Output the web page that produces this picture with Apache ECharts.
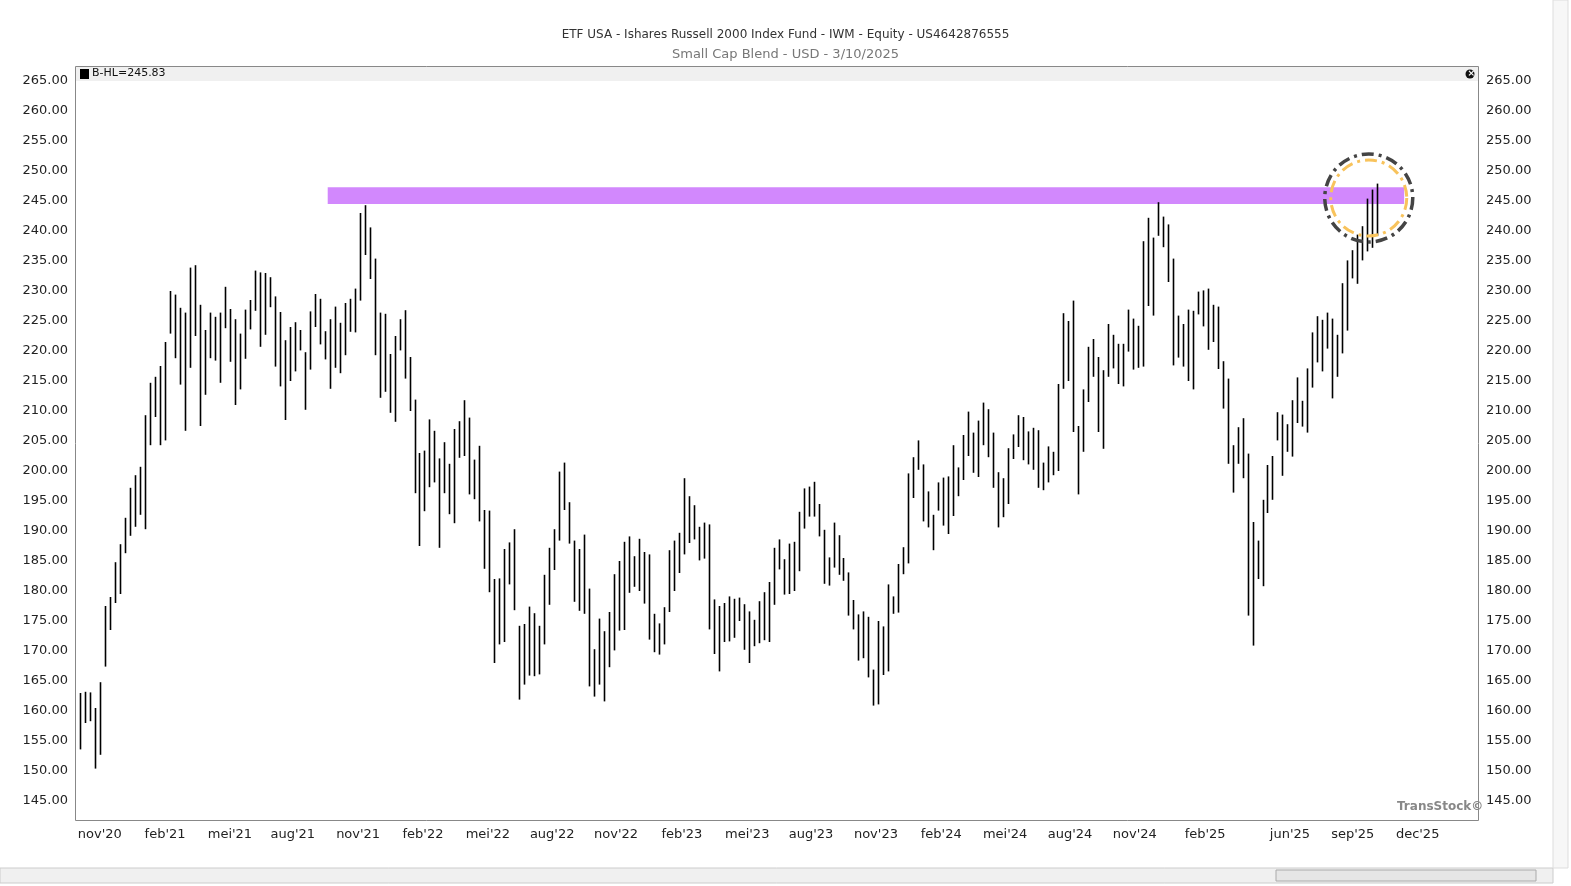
<html lang="nl">
<head>
    <meta charset="utf-8">
    <title>IWM</title>
    <script src="https://cdn.jsdelivr.net/npm/echarts@6.0.0/dist/echarts.min.js"></script>
    <style>
        html, body { margin: 0; padding: 0; background: #fff; overflow: hidden; }
        #chart { width: 1571px; height: 886px; }
    </style>
</head>
<body>
    <div id="chart"></div>
    <script type="text/javascript">
        // weekly highs / lows
        var highs = [
            163.0,163.2,163.1,160.5,164.8,177.5,179.0,184.8,187.8,192.2,197.2,199.3,200.7,209.3,214.7,215.7,217.5,221.5,230.0,229.4,
            227.2,226.4,233.9,234.3,227.7,223.5,226.4,225.7,226.4,230.7,227.0,225.3,222.9,226.9,228.5,233.4,233.1,233.0,232.3,229.1,
            226.5,221.8,224.0,224.8,223.5,219.8,226.6,229.5,228.7,223.3,225.3,227.4,224.7,228.0,228.7,230.4,243.0,244.3,240.6,235.4,
            226.4,226.2,219.5,222.5,225.3,226.8,219.0,211.9,203.0,203.4,208.6,206.7,202.1,204.8,201.2,207.0,208.3,211.8,208.9,201.9,
            204.2,193.5,193.4,182.0,182.1,187.0,188.1,190.3,174.2,174.5,177.4,176.3,174.2,182.7,187.2,190.3,199.9,201.4,194.8,188.4,
            187.0,189.4,180.4,170.3,175.4,173.3,176.5,182.8,185.0,188.2,189.1,185.8,188.7,186.5,186.1,176.2,174.6,177.3,186.8,
            188.4,189.7,198.8,195.8,194.3,190.7,191.4,191.1,178.6,177.5,178.0,179.1,178.7,178.9,177.8,176.6,175.2,178.3,179.8,181.5,
            187.2,188.6,185.3,187.9,188.2,193.2,197.1,197.4,198.2,194.5,190.2,185.6,191.4,189.3,185.5,183.1,178.5,176.1,176.6,175.7,
            166.9,175.0,174.1,181.1,179.1,184.5,187.3,199.6,202.3,205.1,201.1,196.6,192.7,198.1,198.9,199.1,204.3,200.6,206.0,
            209.9,206.4,208.4,211.4,210.3,206.4,199.8,198.8,203.8,206.1,209.3,209.0,206.6,207.2,206.8,201.4,204.1,203.2,214.5,226.3,
            225.0,228.4,207.5,213.6,220.7,222.0,219.0,216.8,224.5,222.7,221.2,221.2,226.9,225.4,224.2,238.3,242.2,238.9,244.8,242.4,
            241.1,235.4,225.9,224.5,226.9,226.7,229.9,230.1,230.4,227.7,227.4,218.3,215.4,204.3,207.3,208.8,202.9,191.5,188.4,
            195.2,201.0,202.5,209.8,209.4,207.8,211.8,215.6,211.7,217.1,223.1,225.8,225.2,226.4,225.4,222.7,231.3,235.1,236.8,239.4,
            240.8,245.4,246.9,247.9
        ];
        var lows = [
            153.6,158.0,158.3,150.4,152.7,167.4,173.5,178.0,179.5,186.3,189.2,190.7,192.7,190.3,204.3,209.0,204.3,205.1,222.9,218.8,
            214.4,206.7,217.2,222.5,207.5,212.7,218.8,218.4,214.7,223.8,218.2,211.0,213.6,218.7,223.6,226.7,220.7,222.7,227.3,217.4,
            214.1,208.5,215.0,216.6,220.1,210.2,216.9,224.0,221.1,218.6,213.7,217.2,216.3,219.3,223.2,223.1,228.4,236.0,232.0,219.3,
            212.2,213.2,209.7,208.2,220.1,215.4,210.0,196.3,187.5,193.3,197.3,198.1,187.2,196.3,192.8,191.3,202.2,202.5,196.1,195.3,
            191.6,183.7,179.8,168.0,171.1,171.5,181.1,176.8,161.9,164.4,165.9,165.8,166.1,171.1,177.7,183.5,188.4,193.5,187.9,178.2,
            176.7,176.2,164.1,162.4,164.4,161.6,167.3,170.1,173.4,173.5,179.7,180.7,180.0,177.9,171.9,169.8,169.4,171.1,176.5,
            180.0,183.0,186.1,188.0,188.6,185.1,185.4,173.6,169.5,166.6,171.5,171.6,172.2,175.0,170.2,168.0,170.8,171.3,171.8,171.5,
            177.7,183.6,179.4,179.5,180.0,183.3,190.4,192.4,192.4,189.1,181.2,180.9,183.9,182.7,181.7,175.9,173.6,168.4,168.8,165.6,
            160.9,161.1,166.0,166.6,176.2,176.4,182.8,184.6,195.5,200.2,191.6,190.6,186.8,193.4,190.9,189.5,192.5,195.8,198.5,
            202.5,199.7,199.0,204.3,202.3,197.2,190.6,192.3,194.5,202.0,204.0,201.8,201.1,200.2,197.2,196.8,198.1,199.3,200.0,213.7,
            215.0,206.5,196.1,203.2,211.5,215.7,206.5,203.7,215.7,217.1,214.5,214.1,219.9,216.9,217.2,217.4,227.5,225.9,239.2,237.3,
            231.5,217.6,218.9,217.4,215.0,213.6,226.1,224.1,220.2,221.5,217.0,210.4,201.2,196.4,201.2,198.8,175.9,170.9,182.0,
            180.8,193.0,195.2,205.1,199.2,203.2,202.4,208.0,207.4,206.4,213.9,218.1,216.6,220.4,212.1,215.7,219.6,223.4,232.1,231.2,
            235.1,236.6,237.2,239.2
        ];
        // month labels and the bar index they sit at
        var monthLabels = ["nov'20","feb'21","mei'21","aug'21","nov'21","feb'22","mei'22","aug'22","nov'22","feb'23","mei'23",
            "aug'23","nov'23","feb'24","mei'24","aug'24","nov'24","feb'25","jun'25","sep'25","dec'25"];
        var monthPos = [3.9,17.0,30.0,42.6,55.7,68.7,81.7,94.6,107.4,120.6,133.7,146.5,159.5,172.6,185.4,198.4,211.4,225.5,242.5,255.1,268.1];
        // resistance band (B-HL) and the highlight circle
        var bandFrom = 49.6, bandTo = 265.4, bandLow = 244.5, bandHigh = 247.3;
        var circleAt = [258.3, 245.5];

        var hlData = highs.map(function (h, i) { return [i, lows[i], h]; });

        var chart = echarts.init(document.getElementById('chart'));
        var font = 'Verdana, "DejaVu Sans", sans-serif';
        var yAxisBase = {
            type: 'value', min: 140, max: 270, interval: 5,
            axisLine: { show: false }, axisTick: { show: false }, splitLine: { show: false },
            axisLabel: {
                fontSize: 13, color: '#222', fontFamily: font,
                formatter: function (v) { return (v < 145 || v > 265) ? '' : v.toFixed(2); }
            }
        };
        var option = {
            animation: false,
            title: {
                text: 'ETF USA - Ishares Russell 2000 Index Fund - IWM - Equity - US4642876555',
                subtext: 'Small Cap Blend - USD - 3/10/2025',
                left: 'center', top: 24, itemGap: 7,
                textStyle: { fontSize: 12, fontWeight: 'normal', color: '#333', fontFamily: font },
                subtextStyle: { fontSize: 13, color: '#777', fontFamily: font }
            },
            grid: { left: 76, right: 1571 - 1478, top: 51, bottom: 886 - 831 },
            xAxis: {
                type: 'value', min: -0.86, max: 280.2,
                axisLine: { show: false }, splitLine: { show: false },
                axisTick: { show: false },
                axisLabel: {
                    customValues: monthPos, margin: -3,
                    fontSize: 13, color: '#222', fontFamily: font,
                    formatter: function (v) {
                        var k = monthPos.indexOf(v);
                        return k >= 0 ? monthLabels[k] : '';
                    }
                }
            },
            yAxis: [
                Object.assign({ position: 'left' }, yAxisBase),
                Object.assign({ position: 'right' }, yAxisBase)
            ],
            series: [{
                type: 'custom',
                data: hlData,
                encode: { x: 0, y: [1, 2] },
                renderItem: function (params, api) {
                    var lo = api.coord([api.value(0), api.value(1)]);
                    var hi = api.coord([api.value(0), api.value(2)]);
                    return {
                        type: 'line',
                        shape: { x1: Math.round(lo[0]) + 0.5, y1: lo[1], x2: Math.round(hi[0]) + 0.5, y2: hi[1] },
                        style: { stroke: '#000', lineWidth: 1.6 }
                    };
                },
                markArea: {
                    silent: true,
                    itemStyle: { color: '#d288fd', opacity: 1 },
                    data: [[{ coord: [bandFrom, bandLow] }, { coord: [bandTo, bandHigh] }]]
                },
                z: 3
            }]
        };
        chart.setOption(option);

        var c = chart.convertToPixel({ gridIndex: 0 }, circleAt);
        chart.setOption({
            graphic: [
                { type: 'rect', shape: { x: 75.5, y: 66.5, width: 1403, height: 754 }, style: { fill: null, stroke: '#888', lineWidth: 1 }, z: 10 },
                { type: 'rect', shape: { x: 76, y: 67, width: 1402, height: 14 }, style: { fill: '#f0f0f0' }, z: 9 },
                { type: 'rect', shape: { x: 80, y: 69, width: 9, height: 10 }, style: { fill: '#000' }, z: 11 },
                { type: 'text', x: 92, y: 68, style: { text: 'B-HL=245.83', fontSize: 11, fill: '#111', fontFamily: font }, z: 11 },
                { type: 'circle', shape: { cx: 1470, cy: 74, r: 4.5 }, style: { fill: '#111' }, z: 11 },
                { type: 'text', x: 1467.5, y: 69, style: { text: '×', fontSize: 9, fill: '#fff', fontFamily: font, fontWeight: 'bold' }, z: 12 },
                { type: 'circle', shape: { cx: c[0], cy: c[1], r: 44 }, style: { fill: null, stroke: '#444', lineWidth: 3.5, lineDash: [12, 5, 3, 5] }, z: 8 },
                { type: 'circle', shape: { cx: c[0], cy: c[1], r: 38 }, style: { fill: null, stroke: '#f8c35c', lineWidth: 3, lineDash: [12, 5, 3, 5] }, z: 8 },
                { type: 'text', x: 1397, y: 801, style: { text: 'TransStock©', fontSize: 12, fontWeight: 'bold', fill: '#888', fontFamily: font }, z: 11 },
                { type: 'rect', shape: { x: 0, y: 868, width: 1553, height: 15 }, style: { fill: '#f0f0f0', stroke: '#ccc' }, z: 1 },
                { type: 'rect', shape: { x: 1276, y: 870, width: 260, height: 11 }, style: { fill: '#e6e6e6', stroke: '#aaa' }, z: 2 },
                { type: 'rect', shape: { x: 1553, y: 0, width: 15, height: 868 }, style: { fill: '#f7f7f7', stroke: '#ddd' }, z: 1 }
            ]
        });
    </script>
</body>
</html>
